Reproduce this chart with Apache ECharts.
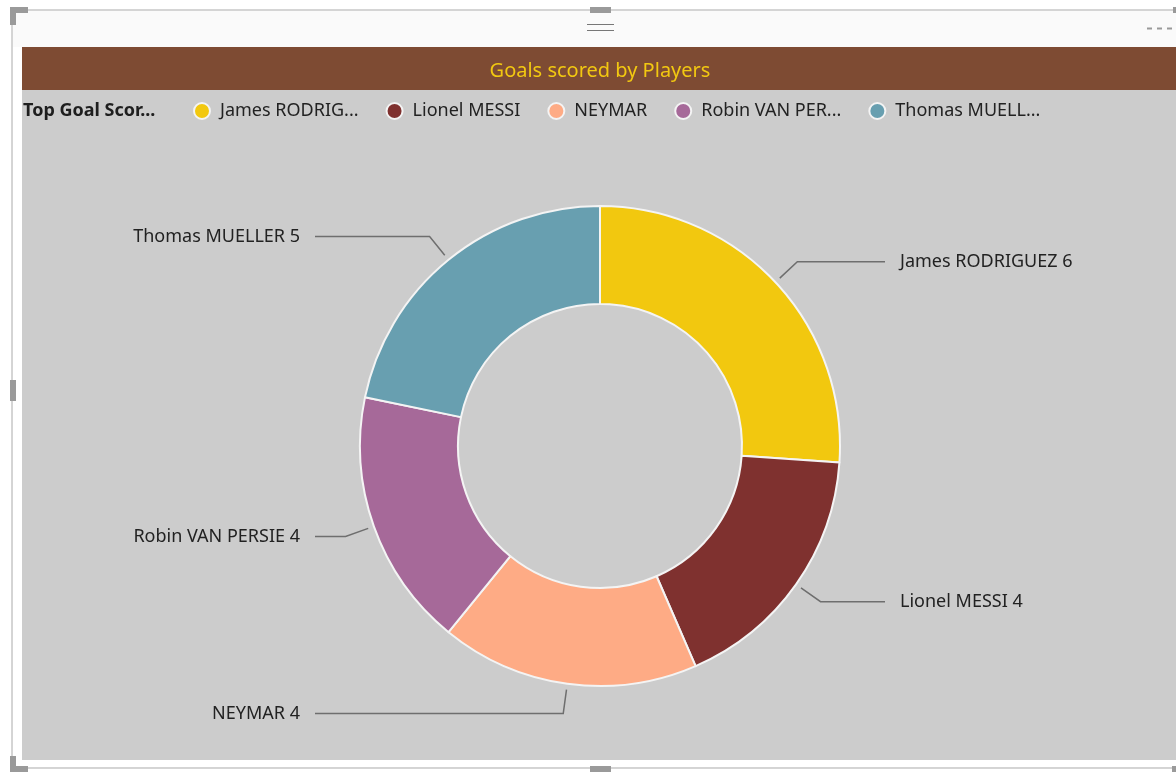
<!DOCTYPE html>
<html>
<head>
<meta charset="utf-8">
<title>Goals scored by Players</title>
<script src="https://cdn.jsdelivr.net/npm/echarts@6/dist/echarts.min.js"></script>
<style>
  html, body { margin: 0; padding: 0; background: #fff; }
  #goalsChart { width: 1176px; height: 772px; }
</style>
</head>
<body>
<div id="goalsChart"></div>
<script>
// data
var players = ['James RODRIGUEZ', 'Lionel MESSI', 'NEYMAR', 'Robin VAN PERSIE', 'Thomas MUELLER']
var goals = [6, 4, 4, 4, 5]
var sliceColors = ['#F2C80F', '#7F312F', '#FEAB85', '#A66999', '#689FB0']

var FONT = '"Noto Sans", "Open Sans", sans-serif'
var centerX = 600
var centerY = 446
var outerR = 240

var chart = echarts.init(document.getElementById('goalsChart'))

// legend names get cut like the power bi legend does
var measureCtx = document.createElement('canvas').getContext('2d')
function shortName(name) {
  measureCtx.font = '18px ' + FONT
  var maxW = 146
  if (measureCtx.measureText(name).width <= maxW) return name
  var s = name
  while (s.length > 1 && measureCtx.measureText(s + '...').width > maxW) {
    s = s.slice(0, -1)
  }
  return s.replace(/\s+$/, '') + '...'
}

var pieData = players.map(function (name, i) {
  return { name: name, value: goals[i], itemStyle: { color: sliceColors[i] } }
})

// frame + handles of the report visual
var handle = '#9a9a9a'
var decor = [
  { type: 'rect', z: -10, shape: { x: 12, y: 10, width: 1200, height: 758 }, style: { fill: '#fafafa', stroke: '#c8c8c8', lineWidth: 1.5 } },
  { type: 'rect', z: -9, shape: { x: 13, y: 47, width: 1200, height: 720 }, style: { fill: '#fff' } },
  { type: 'rect', z: -8, shape: { x: 22, y: 47, width: 1160, height: 43 }, style: { fill: '#7E4B33' } },
  { type: 'rect', z: -8, shape: { x: 22, y: 90, width: 1160, height: 670 }, style: { fill: '#CCCCCC' } },
  { type: 'line', z: -7, shape: { x1: 587, y1: 24.5, x2: 614, y2: 24.5 }, style: { stroke: '#777', lineWidth: 1 } },
  { type: 'line', z: -7, shape: { x1: 587, y1: 30.5, x2: 614, y2: 30.5 }, style: { stroke: '#777', lineWidth: 1 } },
  { type: 'line', z: -7, shape: { x1: 1147, y1: 28.5, x2: 1176, y2: 28.5 }, style: { stroke: '#999', lineWidth: 2, lineDash: [5, 5] } },
  // corner / side handles
  { type: 'rect', z: -6, shape: { x: 10, y: 7, width: 18, height: 6 }, style: { fill: handle } },
  { type: 'rect', z: -6, shape: { x: 10, y: 7, width: 6, height: 18 }, style: { fill: handle } },
  { type: 'rect', z: -6, shape: { x: 590, y: 7, width: 21, height: 6 }, style: { fill: handle } },
  { type: 'rect', z: -6, shape: { x: 1173, y: 7, width: 6, height: 6 }, style: { fill: handle } },
  { type: 'rect', z: -6, shape: { x: 10, y: 380, width: 6, height: 21 }, style: { fill: handle } },
  { type: 'rect', z: -6, shape: { x: 10, y: 756, width: 6, height: 18 }, style: { fill: handle } },
  { type: 'rect', z: -6, shape: { x: 10, y: 766, width: 18, height: 6 }, style: { fill: handle } },
  { type: 'rect', z: -6, shape: { x: 590, y: 766, width: 21, height: 6 }, style: { fill: handle } },
  { type: 'rect', z: -6, shape: { x: 1172, y: 766, width: 6, height: 6 }, style: { fill: handle } }
]

var option = {
  backgroundColor: '#fff',
  animation: false,
  textStyle: { fontFamily: FONT },
  graphic: decor,
  title: [
    {
      text: 'Goals scored by Players',
      left: centerX,
      top: 61,
      textAlign: 'center',
      padding: 0,
      textStyle: { color: '#F2C811', fontSize: 20, fontWeight: 'normal', fontFamily: FONT }
    },
    {
      text: 'Top Goal Scor...',
      left: 23,
      top: 102,
      padding: 0,
      textStyle: { color: '#1e1e1e', fontSize: 18, fontWeight: 'bold', fontFamily: FONT }
    }
  ],
  legend: {
    data: players,
    left: 193,
    top: 102,
    padding: 0,
    icon: 'circle',
    itemWidth: 16,
    itemHeight: 16,
    itemGap: 27,
    selectedMode: false,
    formatter: shortName,
    textStyle: { color: '#222', fontSize: 18, fontFamily: FONT, padding: [0, 0, 0, 5] }
  },
  series: [
    {
      name: 'Goals',
      type: 'pie',
      center: [centerX, centerY],
      radius: [142, outerR],
      startAngle: 90,
      clockwise: true,
      avoidLabelOverlap: false,
      itemStyle: { borderColor: '#f4f4f4', borderWidth: 2 },
      label: {
        show: true,
        position: 'outside',
        formatter: '{b} {c}',
        color: '#222',
        fontSize: 18,
        fontFamily: FONT
      },
      labelLine: {
        show: true,
        length: 24,
        length2: 10,
        lineStyle: { color: '#6e6e6e', width: 1.5 }
      },
      // power bi starts the leader a bit off the ring and pulls every one out to the same x per side
      labelLayout: function (params) {
        var pts = params.labelLinePoints
        if (!pts) return {}
        var dx = pts[0][0] - centerX
        var dy = pts[0][1] - centerY
        var len = Math.sqrt(dx * dx + dy * dy) || 1
        var ux = dx / len
        var uy = dy / len
        var start = [centerX + ux * (outerR + 6), centerY + uy * (outerR + 6)]
        var knee = [centerX + ux * (outerR + 30), centerY + uy * (outerR + 30)]
        var isLeft = dx < 0
        var endX = isLeft ? 315 : 885
        return {
          x: isLeft ? endX - 15 : endX + 15,
          y: knee[1],
          align: isLeft ? 'right' : 'left',
          verticalAlign: 'middle',
          labelLinePoints: [start, knee, [endX, knee[1]]]
        }
      },
      emphasis: { disabled: true },
      data: pieData
    }
  ]
}

chart.setOption(option)
</script>
</body>
</html>
